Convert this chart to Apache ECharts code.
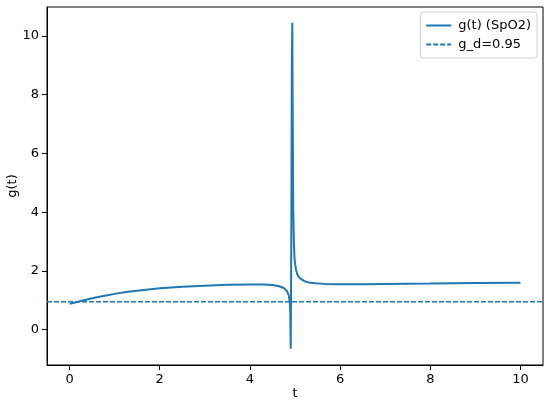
<!DOCTYPE html>
<html>
<head>
<meta charset="utf-8">
<script src="https://cdn.jsdelivr.net/npm/echarts@6/dist/echarts.min.js"></script>
<style>html,body{margin:0;padding:0;background:#fff}#c{width:550px;height:405px}</style>
</head>
<body>
<div id="c"></div>
<script>
// g(t) curve samples
const tValues = [0, 0.1, 0.25, 0.5, 0.75, 1.0, 1.25, 1.5, 1.75, 2.0, 2.5, 3.0, 3.5, 4.0, 4.3, 4.5, 4.65, 4.75, 4.82, 4.86, 4.88, 4.895, 4.905, 4.918, 4.93, 4.94, 4.95, 4.96, 4.975, 4.99, 5.02, 5.06, 5.12, 5.2, 5.3, 5.45, 5.65, 6.0, 6.5, 7, 8, 9, 10];
const gValues = [0.88, 0.92, 0.98, 1.07, 1.15, 1.22, 1.28, 1.33, 1.37, 1.41, 1.46, 1.50, 1.53, 1.54, 1.54, 1.52, 1.48, 1.42, 1.32, 1.18, 1.0, 0.6, -0.65, 3.0, 9.0, 10.44, 7.0, 4.2, 3.0, 2.4, 2.05, 1.85, 1.74, 1.66, 1.61, 1.58, 1.56, 1.55, 1.55, 1.56, 1.57, 1.59, 1.60];
const gd = 0.95;
const xTicks = [0, 2, 4, 6, 8, 10];
const yTicks = [0, 2, 4, 6, 8, 10];
const seriesNames = ['g(t) (SpO2)', 'g_d=0.95'];

const xMin = -0.5, xMax = 10.5, yMin = -1.2, yMax = 10.98;
const color = '#1f77b4';
const font = 'DejaVu Sans';

const chart = echarts.init(document.getElementById('c'), null, {renderer: 'canvas'});
chart.setOption({
  animation: false,
  backgroundColor: '#fff',
  grid: {left: 47, right: 7, top: 7, bottom: 40, containLabel: false, outerBoundsMode: 'none', show: true, borderColor: '#000', borderWidth: 1, backgroundColor: 'transparent'},
  legend: {
    orient: 'vertical', right: 13, top: 12, itemGap: 6, itemWidth: 25, itemHeight: 2,
    padding: [7, 6, 7, 6], borderColor: '#d0d0d0', borderWidth: 1, borderRadius: 3, backgroundColor: 'rgba(255,255,255,0.8)',
    textStyle: {fontFamily: font, fontSize: 13, color: '#000', padding: [0, 0, 0, 2]},
    data: [
      {name: seriesNames[0], icon: 'path://M0,0H25V2H0Z'},
      {name: seriesNames[1], icon: 'path://M0,0H5V2H0Z M7,0H12V2H7Z M14,0H19V2H14Z M21,0H25V2H21Z'}
    ]
  },
  xAxis: {
    type: 'value', min: xMin, max: xMax, name: 't', nameLocation: 'middle', nameGap: 22, nameMoveOverlap: false,
    nameTextStyle: {fontFamily: font, fontSize: 13, color: '#000'},
    axisLine: {show: true, onZero: false, lineStyle: {color: '#000', width: 1}},
    axisTick: {show: true, inside: false, length: 5, lineStyle: {color: '#000'}, customValues: xTicks},
    axisLabel: {fontFamily: font, fontSize: 13, color: '#000', margin: 8, customValues: xTicks},
    splitLine: {show: false}
  },
  yAxis: {
    type: 'value', min: yMin, max: yMax, name: 'g(t)', nameLocation: 'middle', nameGap: 28, nameMoveOverlap: false,
    nameTextStyle: {fontFamily: font, fontSize: 13, color: '#000'},
    axisLine: {show: true, onZero: false, lineStyle: {color: '#000', width: 1}},
    axisTick: {show: true, inside: false, length: 5, lineStyle: {color: '#000'}, customValues: yTicks},
    axisLabel: {fontFamily: font, fontSize: 13, color: '#000', margin: 8, customValues: yTicks},
    splitLine: {show: false}
  },
  series: [
    {
      name: seriesNames[0], type: 'line', showSymbol: false, symbol: 'none', smooth: false,
      lineStyle: {color: color, width: 2}, itemStyle: {color: color},
      data: tValues.map((t, i) => [t, gValues[i]]), z: 3
    },
    {
      name: seriesNames[1], type: 'line', showSymbol: false, symbol: 'none',
      lineStyle: {color: color, width: 1.5, type: [5, 2]}, itemStyle: {color: color},
      data: [[xMin, gd], [xMax, gd]], z: 2
    }
  ]
});
</script>
</body>
</html>
